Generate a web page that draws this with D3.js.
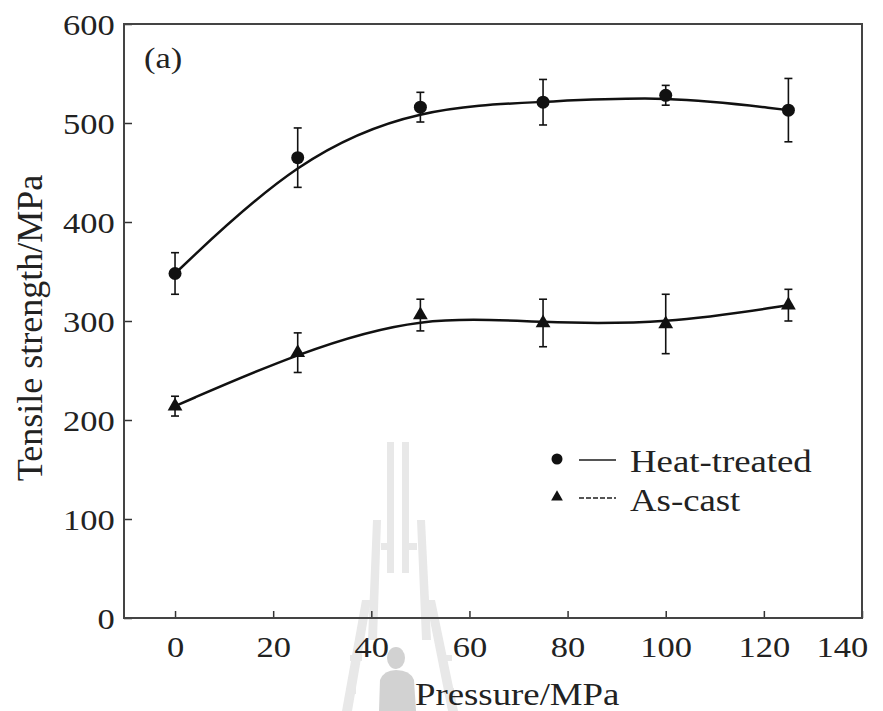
<!DOCTYPE html>
<html>
<head>
<meta charset="utf-8">
<script src="https://cdn.jsdelivr.net/npm/d3@7"></script>
<style>
  body { margin: 0; background: #fff; }
  text { font-family: "Liberation Serif", "Times New Roman", serif; fill: #222; }
</style>
</head>
<body>
<div id="chart"></div>
<script>
// data
var pressure = [0, 25, 50, 75, 100, 125];
var heatTreated = [348, 465, 516, 521, 528, 513];
var heatErr = [21, 30, 15, 23, 10, 32];
var asCast = [214, 268, 306, 298, 297, 316];
var asCastErr = [10, 20, 16, 24, 30, 16];
var xTicks = [0, 20, 40, 60, 80, 100, 120, 140];
var yTicks = [0, 100, 200, 300, 400, 500, 600];

var svgWidth = 883;
var svgHeight = 711;

var margin = { top: 24, right: 21, bottom: 93, left: 124 };
var width = svgWidth - margin.left - margin.right;
var height = svgHeight - margin.top - margin.bottom;

// horizontal stretch of the scanned text
var sx = 1.15;

var svg = d3.select("#chart")
    .append("svg")
    .attr("width", svgWidth)
    .attr("height", svgHeight);

// faint watermark behind the chart (tower + figure)
var wm = svg.append("g").attr("fill", "#e8e8e8");
wm.append("rect").attr("x", 387).attr("y", 442).attr("width", 7).attr("height", 131);
wm.append("rect").attr("x", 402).attr("y", 442).attr("width", 7).attr("height", 131);
wm.append("path").attr("d", "M373,520 L381,520 L377,640 L368,640 Z");
wm.append("path").attr("d", "M417,520 L425,520 L431,640 L422,640 Z");
wm.append("rect").attr("x", 381).attr("y", 543).attr("width", 6).attr("height", 7);
wm.append("rect").attr("x", 409).attr("y", 543).attr("width", 8).attr("height", 7);
wm.append("path").attr("d", "M362,600 L371,600 L352,711 L342,711 Z");
wm.append("path").attr("d", "M426,600 L435,600 L458,711 L448,711 Z");
wm.append("rect").attr("x", 350).attr("y", 655).attr("width", 12).attr("height", 6);
wm.append("rect").attr("x", 346).attr("y", 688).attr("width", 10).attr("height", 6);
wm.append("rect").attr("x", 440).attr("y", 655).attr("width", 12).attr("height", 6);
wm.append("rect").attr("x", 444).attr("y", 688).attr("width", 10).attr("height", 6);
var wm2 = svg.append("g").attr("fill", "#d2d2d2");
wm2.append("ellipse").attr("cx", 396).attr("cy", 658).attr("rx", 9).attr("ry", 11);
wm2.append("path").attr("d", "M379,711 L380,680 Q384,670 396,670 Q410,670 414,680 L416,711 Z");

var chartGroup = svg.append("g")
    .attr("transform", `translate(${margin.left}, ${margin.top})`);

var xScale = d3.scaleLinear().domain([-10.4, 140]).range([0, width]);
var yScale = d3.scaleLinear().domain([0, 600]).range([height, 0]);

// axes with inward ticks
var bottomAxis = d3.axisBottom(xScale).tickValues(xTicks).tickSizeInner(-7).tickSizeOuter(0).tickPadding(20);
var leftAxis = d3.axisLeft(yScale).tickValues(yTicks).tickSizeInner(-8).tickSizeOuter(0).tickPadding(8);

var xAxis = chartGroup.append("g")
    .attr("transform", `translate(0, ${height})`)
    .call(bottomAxis);

var yAxis = chartGroup.append("g")
    .call(leftAxis);

[xAxis, yAxis].forEach(function(ax) {
    ax.select(".domain").remove();
    ax.selectAll(".tick line").attr("stroke", "#333").attr("stroke-width", 1.5);
    ax.selectAll(".tick text")
        .attr("font-size", 30)
        .attr("fill", "#222")
        .style("font-family", "Liberation Serif, serif")
        .attr("transform", `scale(${sx},1)`);
});
xAxis.selectAll(".tick text").attr("dy", "0.62em");
// last x label sits a bit to the left of its tick
xAxis.selectAll(".tick text").filter(d => d === 140).attr("text-anchor", "end").attr("x", 5);
yAxis.selectAll(".tick text").attr("dy", "0.34em");

// frame
chartGroup.append("rect")
    .attr("x", 0).attr("y", 0)
    .attr("width", width).attr("height", height)
    .attr("fill", "none")
    .attr("stroke", "#444")
    .attr("stroke-width", 2);

// smoothed curves through the means
var line = d3.line()
    .x((d, i) => xScale(pressure[i]))
    .y(d => yScale(d))
    .curve(d3.curveBasis);

chartGroup.append("path")
    .datum(heatTreated)
    .attr("d", line)
    .attr("fill", "none")
    .attr("stroke", "#111")
    .attr("stroke-width", 2.5);

chartGroup.append("path")
    .datum(asCast)
    .attr("d", line)
    .attr("fill", "none")
    .attr("stroke", "#111")
    .attr("stroke-width", 2.5);

// error bars
function errorBars(values, errs) {
    var g = chartGroup.append("g").attr("stroke", "#111").attr("stroke-width", 1.6);
    values.forEach(function(v, i) {
        var x = xScale(pressure[i]);
        var y1 = yScale(v + errs[i]);
        var y2 = yScale(v - errs[i]);
        g.append("line").attr("x1", x).attr("x2", x).attr("y1", y1).attr("y2", y2);
        g.append("line").attr("x1", x - 4).attr("x2", x + 4).attr("y1", y1).attr("y2", y1);
        g.append("line").attr("x1", x - 4).attr("x2", x + 4).attr("y1", y2).attr("y2", y2);
    });
}
errorBars(heatTreated, heatErr);
errorBars(asCast, asCastErr);

// markers
chartGroup.append("g").selectAll("circle")
    .data(heatTreated)
    .enter()
    .append("circle")
    .attr("cx", (d, i) => xScale(pressure[i]))
    .attr("cy", d => yScale(d))
    .attr("r", 6.5)
    .attr("fill", "#111");

var tri = d3.symbol().type(d3.symbolTriangle).size(95);
chartGroup.append("g").selectAll("path")
    .data(asCast)
    .enter()
    .append("path")
    .attr("d", tri)
    .attr("transform", (d, i) => `translate(${xScale(pressure[i])}, ${yScale(d)})`)
    .attr("fill", "#111");

// panel label
svg.append("text")
    .attr("transform", `translate(144, 68) scale(${sx},1)`)
    .attr("font-size", 30)
    .text("(a)");

// legend
var legend = svg.append("g");
legend.append("circle").attr("cx", 557).attr("cy", 459).attr("r", 5.5).attr("fill", "#111");
legend.append("line").attr("x1", 579).attr("x2", 616).attr("y1", 460).attr("y2", 460)
    .attr("stroke", "#555").attr("stroke-width", 2);
legend.append("text")
    .attr("transform", `translate(630, 472) scale(${sx},1)`)
    .attr("font-size", 32)
    .text("Heat-treated");

legend.append("path").attr("d", d3.symbol().type(d3.symbolTriangle).size(60))
    .attr("transform", "translate(557, 497)").attr("fill", "#111");
legend.append("line").attr("x1", 579).attr("x2", 616).attr("y1", 498).attr("y2", 498)
    .attr("stroke", "#555").attr("stroke-width", 2).attr("stroke-dasharray", "5,2");
legend.append("text")
    .attr("transform", `translate(630, 511) scale(${sx},1)`)
    .attr("font-size", 32)
    .text("As-cast");

// axis titles
svg.append("text")
    .attr("transform", `translate(415, 705) scale(${sx},1)`)
    .attr("font-size", 32)
    .text("Pressure/MPa");

svg.append("text")
    .attr("transform", "translate(42, 328) rotate(-90)")
    .attr("text-anchor", "middle")
    .attr("font-size", 36)
    .text("Tensile strength/MPa");
</script>
</body>
</html>
